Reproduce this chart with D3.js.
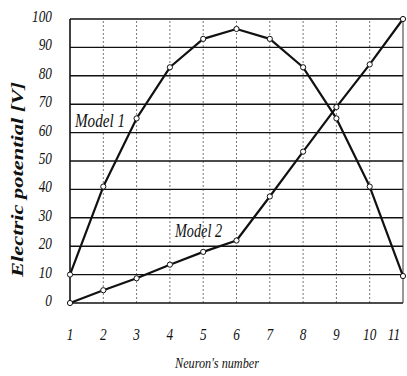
<!DOCTYPE html>
<html>
<head>
<meta charset="utf-8">
<script src="https://cdn.jsdelivr.net/npm/d3@7"></script>
<style>
  html, body { margin: 0; padding: 0; background: #fff; }
  svg { display: block; }
</style>
</head>
<body>
<svg id="chart" width="407" height="376"></svg>
<script>
// Neuron index along the horizontal axis
const neurons = [1, 2, 3, 4, 5, 6, 7, 8, 9, 10, 11];
// Electric potential per neuron [V]
const model1 = [10, 41, 65, 83, 93, 96.5, 93, 83, 65, 41, 9.5];
const model2 = [0, 4.5, 8.7, 13.5, 18, 22, 37.5, 53.3, 69, 84, 100];
const yTicks = [0, 10, 20, 30, 40, 50, 60, 70, 80, 90, 100];
const seriesLabels = ["Model 1", "Model 2"];

const FONT = "'Liberation Serif', 'Times New Roman', Times, serif";

const svg = d3.select("#chart");
const m = { left: 70, right: 4, top: 19, bottom: 73 };
const W = 407, H = 376;

const x = d3.scaleLinear().domain([1, 11]).range([m.left, W - m.right]);
const y = d3.scaleLinear().domain([0, 100]).range([H - m.bottom, m.top]);

function label(sel) {
  return sel.attr("font-family", FONT).attr("font-style", "italic").attr("fill", "#111");
}

// vertical dotted grid
svg.append("g").selectAll("line").data(neurons.slice(1, -1)).join("line")
  .attr("x1", d => x(d)).attr("x2", d => x(d))
  .attr("y1", y(0)).attr("y2", y(100))
  .attr("stroke", "#777").attr("stroke-width", 1)
  .attr("stroke-dasharray", "2,2");

// horizontal solid grid
svg.append("g").selectAll("line").data(yTicks).join("line")
  .attr("x1", x(1)).attr("x2", x(11))
  .attr("y1", d => y(d)).attr("y2", d => y(d))
  .attr("stroke", "#111").attr("stroke-width", 1.4);

// frame sides
svg.append("line").attr("x1", x(1)).attr("x2", x(1)).attr("y1", y(0)).attr("y2", y(100))
  .attr("stroke", "#111").attr("stroke-width", 1.6);
svg.append("line").attr("x1", x(11)).attr("x2", x(11)).attr("y1", y(0)).attr("y2", y(100))
  .attr("stroke", "#333").attr("stroke-width", 1);

// y tick labels (condensed italic)
svg.append("g").selectAll("text").data(yTicks).join("text")
  .call(label)
  .attr("transform", d => `translate(52,${y(d) + 3}) scale(0.78,1)`)
  .attr("text-anchor", "end")
  .attr("font-size", 17)
  .text(d => d);

// x tick labels; the last one is pulled in from the right edge
svg.append("g").selectAll("text").data(neurons).join("text")
  .call(label)
  .attr("transform", (d, i) => `translate(${i === neurons.length - 1 ? x(d) - 9 : x(d)},${y(0) + 37}) scale(0.78,1)`)
  .attr("text-anchor", "middle")
  .attr("font-size", 17)
  .text(d => d);

// axis titles
svg.append("text")
  .call(label)
  .attr("x", 175).attr("y", 368)
  .attr("font-size", 15)
  .attr("textLength", 84)
  .attr("lengthAdjust", "spacingAndGlyphs")
  .text("Neuron's number");

svg.append("text")
  .call(label)
  .attr("transform", `translate(23,277) rotate(-90)`)
  .attr("font-size", 17)
  .attr("font-weight", "bold")
  .attr("textLength", 195)
  .attr("lengthAdjust", "spacingAndGlyphs")
  .text("Electric potential  [V]");

// series lines and markers
const line = d3.line().x((d, i) => x(neurons[i])).y(d => y(d));
[model1, model2].forEach(vals => {
  svg.append("path").datum(vals).attr("d", line)
    .attr("fill", "none").attr("stroke", "#111").attr("stroke-width", 2.2)
    .attr("stroke-linejoin", "round");
  svg.append("g").selectAll("circle").data(vals).join("circle")
    .attr("cx", (d, i) => x(neurons[i])).attr("cy", d => y(d))
    .attr("r", 2.6).attr("fill", "#fff").attr("stroke", "#111").attr("stroke-width", 1);
});

// series labels
svg.append("rect").attr("x", 73).attr("y", 112).attr("width", 55).attr("height", 19).attr("fill", "#fff");
svg.append("text").call(label)
  .attr("x", 75).attr("y", 127).attr("font-size", 18)
  .attr("textLength", 50).attr("lengthAdjust", "spacingAndGlyphs")
  .text(seriesLabels[0]);

svg.append("text").call(label)
  .attr("x", 175).attr("y", 237).attr("font-size", 18)
  .attr("textLength", 47).attr("lengthAdjust", "spacingAndGlyphs")
  .text(seriesLabels[1]);
</script>
</body>
</html>
